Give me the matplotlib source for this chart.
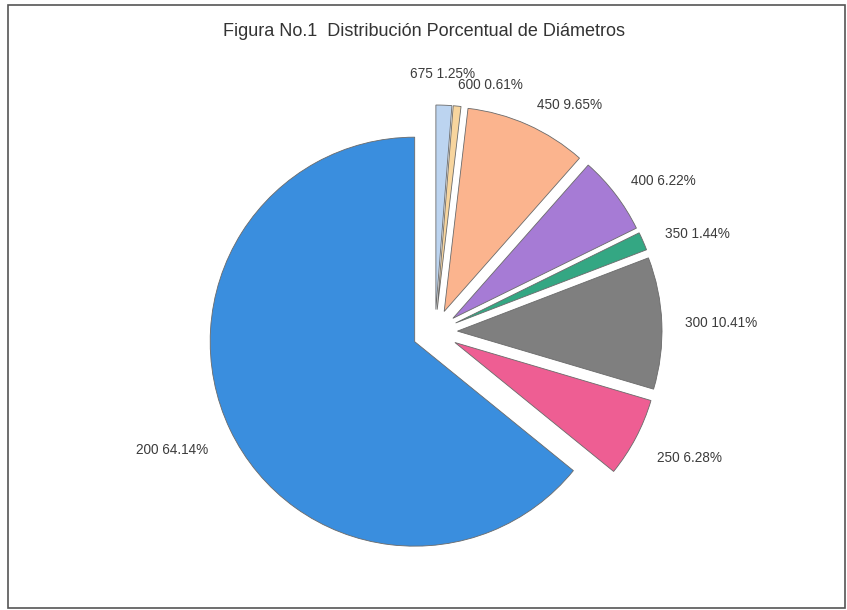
import numpy as np
import matplotlib.pyplot as plt
from matplotlib.patches import Rectangle

plt.rcParams['font.family'] = ['Liberation Sans', 'DejaVu Sans']

# Data (clockwise from 12 o'clock)
diametros = ['675', '600', '450', '400', '350', '300', '250', '200']
porcentajes = [1.25, 0.61, 9.65, 6.22, 1.44, 10.41, 6.28, 64.14]

colores = ['#bcd4f0', '#f7d59e', '#fbb48e', '#a67bd5', '#34a783',
           '#7f7f7f', '#ee5e93', '#3a8ede']
explode = 0.11   # every slice pulled out by the same fraction of the radius

# label placement (distance in radii from pie centre, angular nudge in degrees)
label_dist = [1.26, 1.24, 1.29, 1.34, 1.37, 1.40, 1.39, 1.41]
label_nudge = [-0.6, 7.0, 6.5, 4.0, 3.0, 0.5, -1.5, 1.3]

W, H = 847, 610
fig = plt.figure(figsize=(W / 100, H / 100), dpi=100)
ax = fig.add_axes([0, 0, 1, 1])

cx, cy, r = 435, H - 332, 204.5
wedges, _ = ax.pie(porcentajes, colors=colores,
                   explode=[explode * r] * len(porcentajes),
                   startangle=90, counterclock=False, center=(cx, cy), radius=r,
                   frame=True, wedgeprops=dict(edgecolor='#6a6a6a', linewidth=0.6))
ax.set_xlim(0, W)
ax.set_ylim(0, H)
ax.set_aspect('equal')
ax.axis('off')

for w, d, p, dist, nudge in zip(wedges, diametros, porcentajes, label_dist, label_nudge):
    mid = np.deg2rad((w.theta1 + w.theta2) / 2 - nudge)
    x = cx + dist * r * np.cos(mid)
    y = cy + dist * r * np.sin(mid)
    ax.text(x, y, f'{d} {p:.2f}%', ha='center', va='center',
            fontsize=9.8, color='#3c3c3c')

ax.text(W / 2, H - 31, 'Figura No.1  Distribución Porcentual de Diámetros',
        ha='center', va='center', fontsize=13, color='#333333')

ax.add_patch(Rectangle((8, 2), W - 10, H - 7, fill=False,
                       edgecolor='#555555', linewidth=1.2))

fig.savefig('out.png', dpi=100)
